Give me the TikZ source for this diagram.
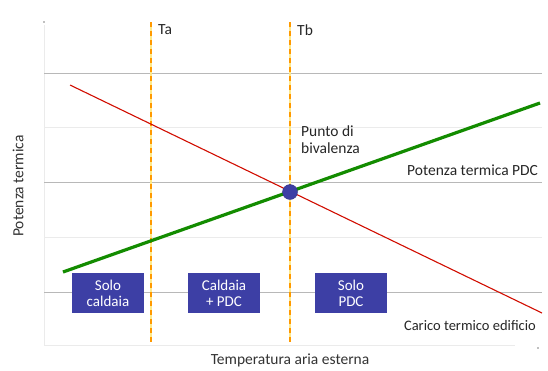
\documentclass[tikz,border=0pt]{standalone}
\usepackage{fontspec}
\setmainfont{Carlito}
\begin{document}
\begin{tikzpicture}[x=1pt,y=-1pt,
  grid/.style={draw=black!28,line width=0.9pt},
  faint/.style={draw=black!8,line width=0.9pt},
  tline/.style={draw=yellow!70!orange!45,line width=1.2pt},
  tdash/.style={draw=orange!80!yellow,line width=1.2pt,dash pattern=on 5pt off 4pt},
  zone/.style={fill=zonecol,text=white,align=center,minimum width=72pt,minimum height=40pt,inner sep=0pt,font=\fontsize{15}{16}\selectfont},
  lbl/.style={font=\fontsize{15.5}{18}\selectfont,text=black!85,inner sep=0pt},
  axlbl/.style={font=\fontsize{15.5}{17}\selectfont,text=black!80,inner sep=0pt}
]
\definecolor{zonecol}{HTML}{3D3FA5}
\useasboundingbox (0,0) rectangle (548,370);
\fill[white] (0,0) rectangle (548,370);
% axes and grid
\coordinate (ytop) at (44,25);
\coordinate (ybot) at (44,345);
\coordinate (xend) at (515,345);
\draw[faint] (ytop) -- (ybot);
\draw[faint] (ybot) -- (xend);
\fill[black!50] (44,22) circle (0.9pt);
\fill[black!50] (538,348) circle (0.9pt);
\draw[grid] (44,73) -- (542,73);
\draw[grid] (44,182) -- (542,182);
\draw[grid] (44,292) -- (542,292);
\draw[faint] (44,127) -- (542,127);
\draw[faint] (44,237) -- (542,237);
% vertical dashed lines
\coordinate (tatop) at (151,22);
\coordinate (tabot) at (151,342);
\coordinate (tbtop) at (290,22);
\coordinate (tbbot) at (290,342);
\draw[tline] (tatop) -- (tabot);
\draw[tdash] (tatop) -- (tabot);
\draw[tline] (tbtop) -- (tbbot);
\draw[tdash] (tbtop) -- (tbbot);
\node[lbl,anchor=west] (ta) at (158,30) {Ta};
\node[lbl,anchor=west] (tb) at (297,30) {Tb};
% curves
\coordinate (r1) at (70,85);
\coordinate (r2) at (542,313);
\coordinate (g1) at (63,272);
\coordinate (g2) at (540,103);
\draw[red!80!black!90!orange,line width=1.1pt] (r1) -- (r2);
\draw[green!50!black!90!lime,line width=3.2pt] (g1) -- (g2);
\node[circle,fill=zonecol,draw=zonecol!80!black,minimum size=15pt,inner sep=0pt] (bp) at (290,192) {};
% labels
\node[lbl,anchor=west,align=left] (punto) at (301,140) {Punto di\\[-1pt]bivalenza};
\node[lbl,anchor=west] (pdc) at (407,170) {Potenza termica PDC};
\node[lbl,anchor=east,font=\fontsize{14.5}{17}\selectfont] (carico) at (536,326) {Carico termico edificio};
% zones
\node[zone] (z1) at (108,293) {Solo\\caldaia};
\node[zone] (z2) at (224,293) {Caldaia\\+ PDC};
\node[zone] (z3) at (351,293) {Solo\\PDC};
% axis labels
\node[axlbl,rotate=90] (ylab) at (18,186) {Potenza termica};
\node[axlbl] (xlab) at (290,360) {Temperatura aria esterna};
\end{tikzpicture}
\end{document}
